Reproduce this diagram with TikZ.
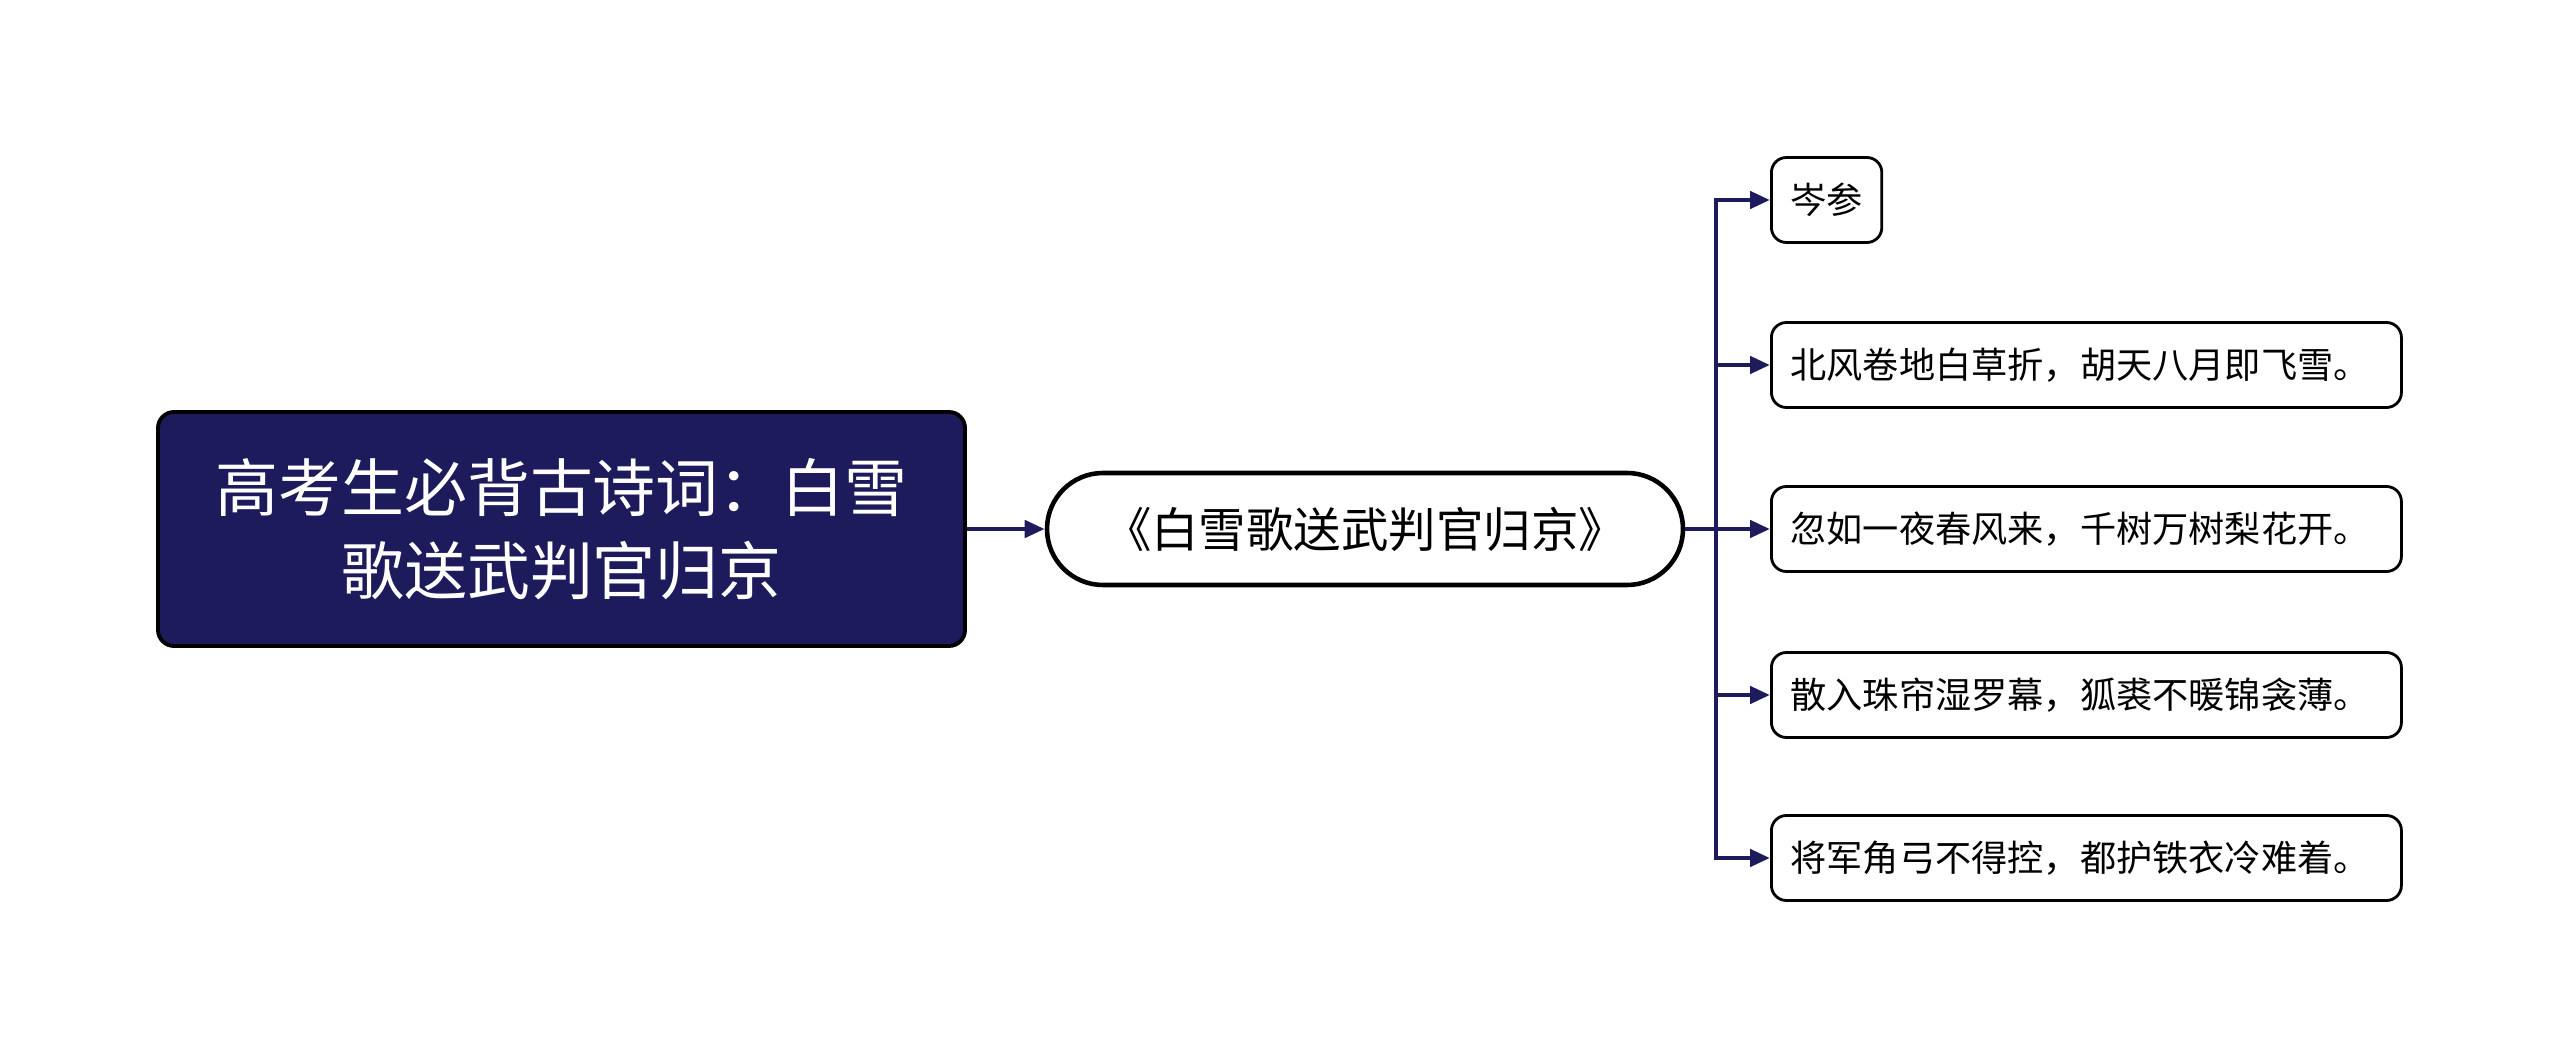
\documentclass[tikz,border=0pt]{standalone}
\usepackage{fontspec}
\setmainfont{Noto Sans CJK SC}
\usetikzlibrary{arrows.meta}
\definecolor{navy}{RGB}{30,27,92}

\begin{document}
\begin{tikzpicture}[
  rootbox/.style={draw=black, line width=1.1pt, fill=navy, text=white, rounded corners=0.16cm,
    minimum width=8.07cm, minimum height=2.34cm, align=center,
    font=\fontsize{17.9pt}{23.6pt}\selectfont},
  titlebox/.style={draw=black, line width=1.3pt, fill=white, rounded corners=0.56cm,
    minimum width=6.36cm, minimum height=1.12cm, font=\fontsize{13.5pt}{16pt}\selectfont},
  leafbox/.style={draw=black, line width=0.8pt, fill=white, rounded corners=0.15cm, anchor=west,
    inner xsep=0.19cm, minimum height=0.85cm, font=\fontsize{10.3pt}{12pt}\selectfont},
  longleaf/.style={leafbox, text width=5.92cm, align=left},
  conn/.style={draw=navy, line width=1.3pt},
  link/.style={conn, -{Triangle[length=0.2cm,width=0.17cm]}}]
\useasboundingbox (0,0) rectangle (25.6,-10.6);

% root and title
\node[rootbox] (root) at (5.615,-5.29) {高考生必背古诗词：白雪\\歌送武判官归京};
\node[titlebox] (title) at (13.65,-5.29) {《白雪歌送武判官归京》};
\draw[link] (root) -- (title);

% leaves
\node[leafbox] (n1) at (17.70,-2.00) {岑参};
\node[longleaf] (n2) at (17.70,-3.65) {北风卷地白草折，胡天八月即飞雪。};
\node[longleaf] (n3) at (17.70,-5.29) {忽如一夜春风来，千树万树梨花开。};
\node[longleaf] (n4) at (17.70,-6.95) {散入珠帘湿罗幕，狐裘不暖锦衾薄。};
\node[longleaf] (n5) at (17.70,-8.58) {将军角弓不得控，都护铁衣冷难着。};

\coordinate (fork) at (17.16,-5.29);
\draw[conn] (title) -- (fork);
\foreach \i in {1,...,5}
  \draw[link] (fork) |- (n\i.west);
\end{tikzpicture}
\end{document}
